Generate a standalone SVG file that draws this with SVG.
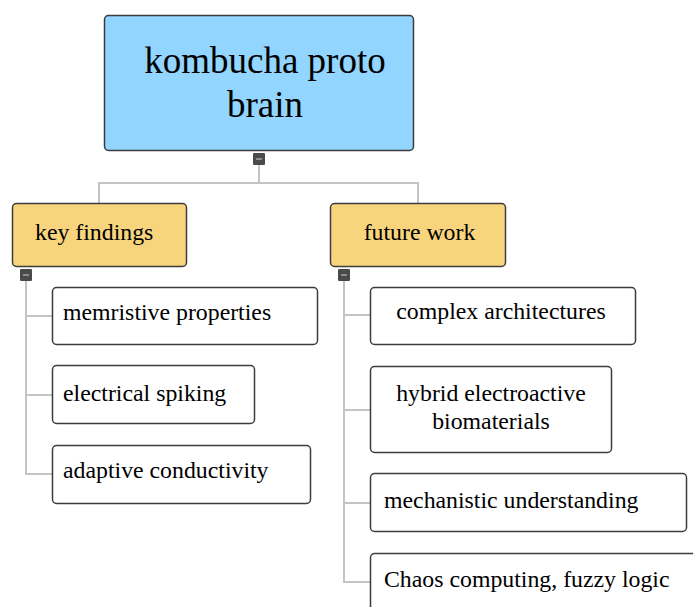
<svg xmlns="http://www.w3.org/2000/svg" width="693" height="607" viewBox="0 0 693 607">
<style>
.box{stroke:#3c3c3c;stroke-width:1.5}
.root{fill:#92d5fe}
.topic{fill:#f8d57d}
.leaf{fill:#ffffff}
.t{font-family:"Liberation Serif","Times New Roman",serif;fill:#000}
.line{stroke:#c4c4c4;stroke-width:2;fill:none}
.tog{fill:#4a4a4a}
.tog-m{stroke:#bdbdbd;stroke-width:1.2}
</style>
<rect width="693" height="607" fill="#ffffff"/>
<g id="connectors">
<path class="line" d="M259 160 V183 M99 203 V183 H418 V203"/>
<path class="line" d="M26 275 V474 H52 M26 316 H52 M26 395 H52"/>
<path class="line" d="M344 275 V582 H370 M344 315 H370 M344 410 H370 M344 503 H370"/>
</g>
<g id="root">
<rect class="box root" x="104.5" y="15.5" width="309" height="135" rx="4"/>
<text class="t" font-size="37" text-anchor="middle" x="265" y="73">kombucha proto</text>
<text class="t" font-size="37" text-anchor="middle" x="265" y="117">brain</text>
<rect class="tog" x="253" y="153" width="12" height="12" rx="1"/>
<line class="tog-m" x1="256" y1="159" x2="262" y2="159"/>
</g>
<g id="key-findings">
<rect class="box topic" x="12.5" y="203.5" width="174" height="63" rx="4"/>
<text class="t" font-size="23.8" x="35" y="240">key findings</text>
<rect class="tog" x="20" y="269" width="12" height="12" rx="1"/>
<line class="tog-m" x1="23" y1="275" x2="29" y2="275"/>
</g>
<g id="future-work">
<rect class="box topic" x="330.5" y="203.5" width="175" height="63" rx="4"/>
<text class="t" font-size="23.8" text-anchor="middle" x="419.5" y="240">future work</text>
<rect class="tog" x="338" y="269" width="12" height="12" rx="1"/>
<line class="tog-m" x1="341" y1="275" x2="347" y2="275"/>
</g>
<g id="memristive">
<rect class="box leaf" x="52.5" y="287.5" width="265" height="57" rx="4"/>
<text class="t" font-size="23.8" x="63" y="320">memristive properties</text>
</g>
<g id="electrical">
<rect class="box leaf" x="52.5" y="365.5" width="202" height="58" rx="4"/>
<text class="t" font-size="23.8" x="63" y="401">electrical spiking</text>
</g>
<g id="adaptive">
<rect class="box leaf" x="52.5" y="445.5" width="258" height="58" rx="4"/>
<text class="t" font-size="23.8" x="63" y="478">adaptive conductivity</text>
</g>
<g id="complex">
<rect class="box leaf" x="370.5" y="287.5" width="265" height="57" rx="4"/>
<text class="t" font-size="23.8" text-anchor="middle" x="501" y="319">complex architectures</text>
</g>
<g id="hybrid">
<rect class="box leaf" x="370.5" y="366.5" width="241" height="86" rx="4"/>
<text class="t" font-size="23.8" text-anchor="middle" x="491" y="401">hybrid electroactive</text>
<text class="t" font-size="23.8" text-anchor="middle" x="491" y="429">biomaterials</text>
</g>
<g id="mechanistic">
<rect class="box leaf" x="370.5" y="473.5" width="316" height="58" rx="4"/>
<text class="t" font-size="23.8" x="384" y="508">mechanistic understanding</text>
</g>
<g id="chaos">
<rect class="box leaf" x="370.5" y="553.5" width="330" height="70" rx="4"/>
<text class="t" font-size="23.8" x="384" y="587">Chaos computing, fuzzy logic</text>
</g>
</svg>
